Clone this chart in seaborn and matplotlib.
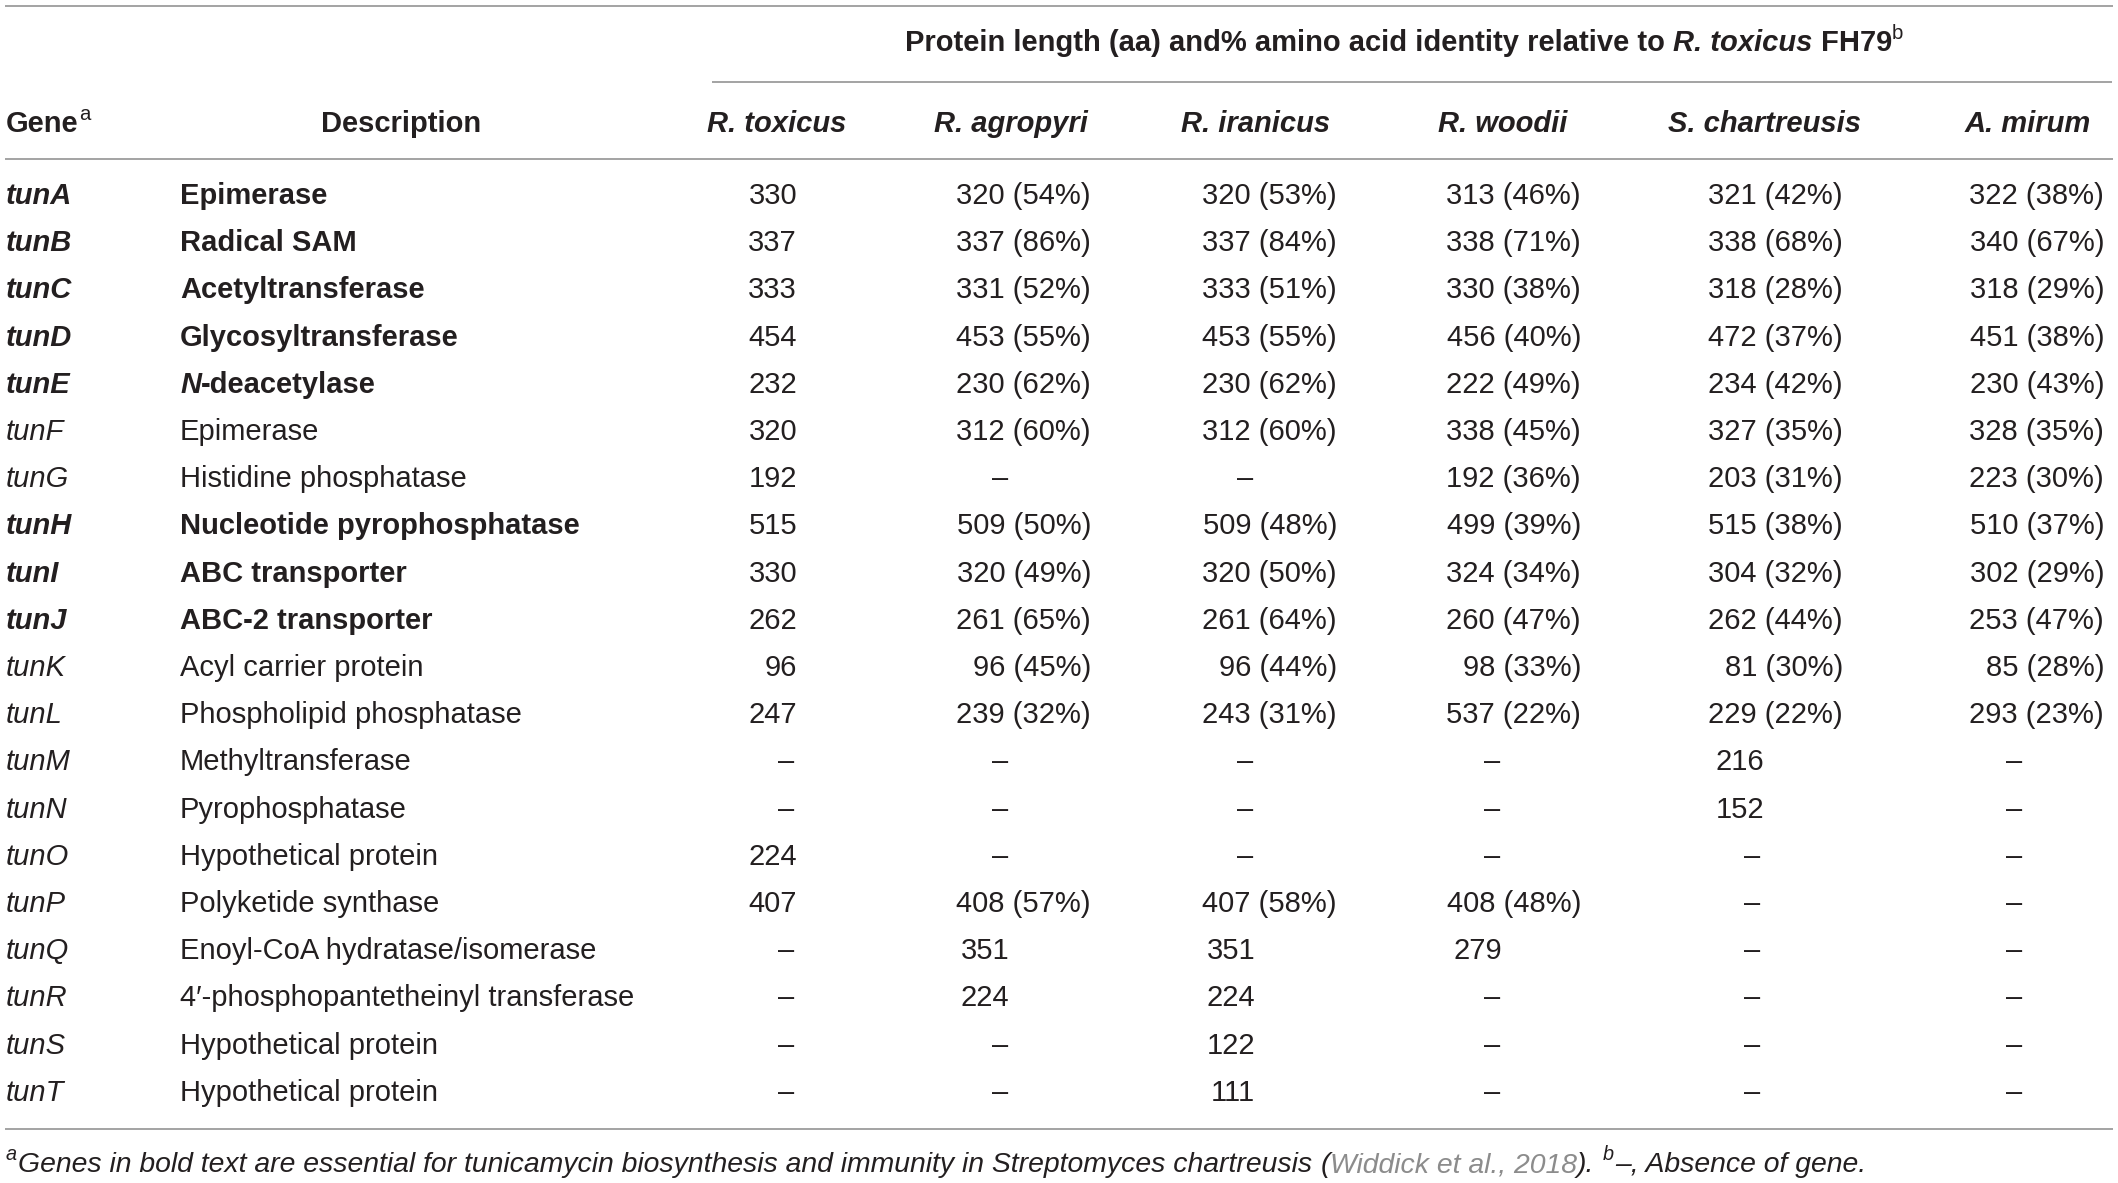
import matplotlib
matplotlib.use("Agg")
import matplotlib.pyplot as plt
import pandas as pd
import seaborn as sns

sns.set_theme(style="white")
plt.rcParams['font.family'] = ['Liberation Sans', 'DejaVu Sans']

# ---- data ----
genes = ['tunA', 'tunB', 'tunC', 'tunD', 'tunE', 'tunF', 'tunG', 'tunH', 'tunI', 'tunJ',
         'tunK', 'tunL', 'tunM', 'tunN', 'tunO', 'tunP', 'tunQ', 'tunR', 'tunS', 'tunT']
descriptions = ['Epimerase', 'Radical SAM', 'Acetyltransferase', 'Glycosyltransferase',
                'N-deacetylase', 'Epimerase', 'Histidine phosphatase',
                'Nucleotide pyrophosphatase', 'ABC transporter', 'ABC-2 transporter',
                'Acyl carrier protein', 'Phospholipid phosphatase', 'Methyltransferase',
                'Pyrophosphatase', 'Hypothetical protein', 'Polyketide synthase',
                'Enoyl-CoA hydratase/isomerase', '4\u2032-phosphopantetheinyl transferase',
                'Hypothetical protein', 'Hypothetical protein']
essential = [True, True, True, True, True, False, False, True, True, True,
             False, False, False, False, False, False, False, False, False, False]

species = ['R. toxicus', 'R. agropyri', 'R. iranicus', 'R. woodii', 'S. chartreusis', 'A. mirum']

N = None
r_toxicus_len = [330, 337, 333, 454, 232, 320, 192, 515, 330, 262, 96, 247, N, N, 224, 407, N, N, N, N]
r_agropyri_len = [320, 337, 331, 453, 230, 312, N, 509, 320, 261, 96, 239, N, N, N, 408, 351, 224, N, N]
r_agropyri_pct = [54, 86, 52, 55, 62, 60, N, 50, 49, 65, 45, 32, N, N, N, 57, N, N, N, N]
r_iranicus_len = [320, 337, 333, 453, 230, 312, N, 509, 320, 261, 96, 243, N, N, N, 407, 351, 224, 122, 111]
r_iranicus_pct = [53, 84, 51, 55, 62, 60, N, 48, 50, 64, 44, 31, N, N, N, 58, N, N, N, N]
r_woodii_len = [313, 338, 330, 456, 222, 338, 192, 499, 324, 260, 98, 537, N, N, N, 408, 279, N, N, N]
r_woodii_pct = [46, 71, 38, 40, 49, 45, 36, 39, 34, 47, 33, 22, N, N, N, 48, N, N, N, N]
s_chartreusis_len = [321, 338, 318, 472, 234, 327, 203, 515, 304, 262, 81, 229, 216, 152, N, N, N, N, N, N]
s_chartreusis_pct = [42, 68, 28, 37, 42, 35, 31, 38, 32, 44, 30, 22, N, N, N, N, N, N, N, N]
a_mirum_len = [322, 340, 318, 451, 230, 328, 223, 510, 302, 253, 85, 293, N, N, N, N, N, N, N, N]
a_mirum_pct = [38, 67, 29, 38, 43, 35, 30, 37, 29, 47, 28, 23, N, N, N, N, N, N, N, N]
r_toxicus_pct = [N] * len(genes)

lens = [r_toxicus_len, r_agropyri_len, r_iranicus_len, r_woodii_len, s_chartreusis_len, a_mirum_len]
pcts = [r_toxicus_pct, r_agropyri_pct, r_iranicus_pct, r_woodii_pct, s_chartreusis_pct, a_mirum_pct]

df = pd.DataFrame({'gene': genes, 'desc': descriptions, 'essential': essential})

# ---- layout ----
W, H, DPI = 2118, 1183, 100
FS = 21.0
FS_FOOT = 20.4
INK = '#231f20'
RULE = '#8a8a8a'
LINK = '#8c8c8c'

pct_right = [None, 1091, 1337, 1581, 1843, 2104]
plain_right = [797, 1009, 1255, 1502, 1764, 2024]
dash_center = [786, 1000, 1245, 1492, 1752, 2014]
head_center = [777, 1011, 1256, 1503, 1765, 2028]

fig = plt.figure(figsize=(W / DPI, H / DPI), dpi=DPI)
ax = fig.add_axes([0, 0, 1, 1])
ax.set_xlim(0, W)
ax.set_ylim(H, 0)
ax.axis('off')
renderer = fig.canvas.get_renderer()


def runs(x, y, parts, ha='left', size=FS):
    # parts: list of (text, weight, style, sup, color); None = word gap
    arts, widths = [], []
    for p in parts:
        if p is None:
            arts.append(None)
            widths.append(0.278 * size * DPI / 72)
            continue
        txt, weight, style, sup, color = p
        sz = size * 0.7 if sup else size
        dy = -size * 0.42 * DPI / 72 if sup else 0
        t = ax.text(0, y + dy, txt, fontsize=sz, fontweight=weight, fontstyle=style,
                    color=color, ha='left', va='baseline')
        arts.append(t)
        widths.append(t.get_window_extent(renderer).width + (1.5 if sup else 0))
    total = sum(widths)
    start = {'left': x, 'center': x - total / 2, 'right': x - total}[ha]
    for a, w in zip(arts, widths):
        if a is not None:
            a.set_x(start)
        start += w


# rules
ax.hlines(5.5, 5, 2113, color=RULE, lw=1.1)
ax.hlines(82, 712, 2112, color=RULE, lw=1.1)
ax.hlines(159, 5, 2113, color=RULE, lw=1.1)
ax.hlines(1129, 5, 2113, color=RULE, lw=1.1)

# group header
runs(1405, 51, [('Protein length (aa) and% amino acid identity relative to', 'bold', 'normal', False, INK),
                None, ('R. toxicus', 'bold', 'italic', False, INK), None,
                ('FH79', 'bold', 'normal', False, INK), ('b', 'normal', 'normal', True, INK)],
     ha='center')

# column headers
runs(6, 132, [('Gene', 'bold', 'normal', False, INK), ('a', 'normal', 'normal', True, INK)])
runs(401, 132, [('Description', 'bold', 'normal', False, INK)], ha='center')
for j, sp in enumerate(species):
    runs(head_center[j], 132, [(sp, 'bold', 'italic', False, INK)], ha='center')

# body
base0, step = 204, 47.2
for i, row in df.iterrows():
    y = base0 + i * step
    w = 'bold' if row['essential'] else 'normal'
    runs(6, y, [(row['gene'], w, 'italic', False, INK)])
    if row['desc'].startswith('N-'):
        runs(180, y, [('N', w, 'italic', False, INK), (row['desc'][1:], w, 'normal', False, INK)])
    else:
        runs(180, y, [(row['desc'], w, 'normal', False, INK)])
    for j in range(len(species)):
        L, P = lens[j][i], pcts[j][i]
        if L is None:
            ax.text(dash_center[j], y, '\u2013', fontsize=FS, color=INK, ha='center', va='baseline')
        elif P is None:
            ax.text(plain_right[j], y, f'{L}', fontsize=FS, color=INK, ha='right', va='baseline')
        else:
            ax.text(pct_right[j], y, f'{L} ({P}%)', fontsize=FS, color=INK, ha='right', va='baseline')

# footnote
runs(6, 1172, [('a', 'normal', 'italic', True, INK),
               ('Genes in bold text are essential for tunicamycin biosynthesis and immunity in Streptomyces chartreusis',
                'normal', 'italic', False, INK), None,
               ('(', 'normal', 'italic', False, INK),
               ('Widdick et al., 2018', 'normal', 'italic', False, LINK),
               (').', 'normal', 'italic', False, INK), None,
               ('b', 'normal', 'italic', True, INK),
               ('\u2013, Absence of gene.', 'normal', 'italic', False, INK)],
     size=FS_FOOT)

fig.savefig('out.png', dpi=DPI, facecolor='white')
